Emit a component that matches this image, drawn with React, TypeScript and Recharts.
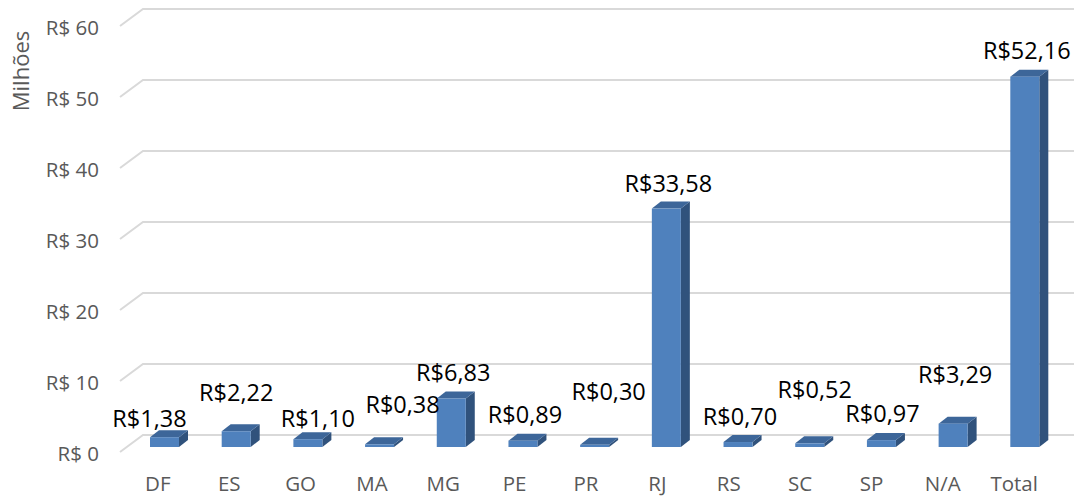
import React from 'react'
import {Bar, BarChart, CartesianGrid, LabelList, XAxis, YAxis} from 'recharts'

// Valores por UF (em milhões de reais)
const states = ['DF', 'ES', 'GO', 'MA', 'MG', 'PE', 'PR', 'RJ', 'RS', 'SC', 'SP', 'N/A', 'Total']
const amounts = [1.38, 2.22, 1.1, 0.38, 6.83, 0.89, 0.3, 33.58, 0.7, 0.52, 0.97, 3.29, 52.16]
const yTicks = [0, 10, 20, 30, 40, 50, 60]

const data = states.map((state, i) => ({state, amount: amounts[i]}))

// where the data labels sit relative to the bar top (Excel staggered them)
const labelDx = [-15, 0, 10, 23, 2, 2, 14, 2, 2, 5, 1, 2, 2]
const labelDy = [-19, -39, -21, -40, -27, -27, -54, -26, -26, -54, -27, -50, -27]

const FONT = '"Open Sans", sans-serif'
const DEPTH_X = 9
const DEPTH_Y = 7

const brl = (v: number) => `R$${v.toFixed(2).replace('.', ',')}`

// 3D-looking column: front face, right side and top
const Column3D = (props: any) => {
  const {x, y, width: w, height: h} = props
  if (h == null || w == null) return null
  return (
    <g>
      <path
        d={`M${x + w},${y}L${x + w + DEPTH_X},${y - DEPTH_Y}L${x + w + DEPTH_X},${y + h - DEPTH_Y}L${x + w},${y + h}Z`}
        fill="#30527c"
      />
      <path
        d={`M${x},${y}L${x + DEPTH_X},${y - DEPTH_Y}L${x + w + DEPTH_X},${y - DEPTH_Y}L${x + w},${y}Z`}
        fill="#3d6699"
      />
      <rect x={x} y={y} width={w} height={h} fill="#4f81bd" />
    </g>
  )
}

// gridline with the slanted "floor" part on the left, like Excel's 3D walls
const gridLine = (p: any) => {
  const {x1, x2, y1} = p
  return (
    <path
      key={p.key}
      d={`M${x1 - 9},${y1 + 5}L${x1 + 14},${y1 - 12}L${x2 + 13},${y1 - 12}`}
      stroke="#d9d9d9"
      strokeWidth={2}
      fill="none"
    />
  )
}

const YTick = (p: any) => (
  <text
    x={99}
    y={p.y + 6}
    textAnchor="end"
    dominantBaseline="central"
    fill="#595959"
    fontSize={20.5}
    fontFamily={FONT}
  >
    {`R$ ${p.payload.value}`}
  </text>
)

const XTick = (p: any) => (
  <text
    x={p.x - 7 - p.index * 0.33}
    y={483}
    textAnchor="middle"
    dominantBaseline="central"
    fill="#595959"
    fontSize={20.5}
    fontFamily={FONT}
  >
    {p.payload.value}
  </text>
)

const ValueLabel = (p: any) => {
  const {x, y, width, value, index} = p
  return (
    <text
      x={x + width / 2 + labelDx[index]}
      y={y + labelDy[index]}
      textAnchor="middle"
      dominantBaseline="central"
      fill="#000"
      fontSize={23.5}
      fontFamily={FONT}
    >
      {brl(value)}
    </text>
  )
}

const App = () => {
  return (
    <div style={{position: 'absolute', left: 0, top: 0, width: 1074, height: 496, background: '#fff'}}>
      <BarChart width={1074} height={496} data={data} margin={{top: 21, right: 13, bottom: 19, left: 0}}>
        <CartesianGrid vertical={false} horizontal={gridLine} />
        <XAxis dataKey="state" height={30} axisLine={false} tickLine={false} tick={XTick} interval={0} />
        <YAxis
          width={129}
          domain={[0, 60]}
          ticks={yTicks}
          axisLine={false}
          tickLine={false}
          tick={YTick}
          label={{
            content: () => (
              <text
                x={20}
                y={71}
                transform="rotate(-90 20 71)"
                textAnchor="middle"
                dominantBaseline="central"
                fill="#595959"
                fontSize={22}
                fontFamily={FONT}
              >
                Milhões
              </text>
            ),
          }}
        />
        <Bar dataKey="amount" barSize={29} shape={Column3D} isAnimationActive={false}>
          <LabelList dataKey="amount" content={ValueLabel} />
        </Bar>
      </BarChart>
    </div>
  )
}

export default App
